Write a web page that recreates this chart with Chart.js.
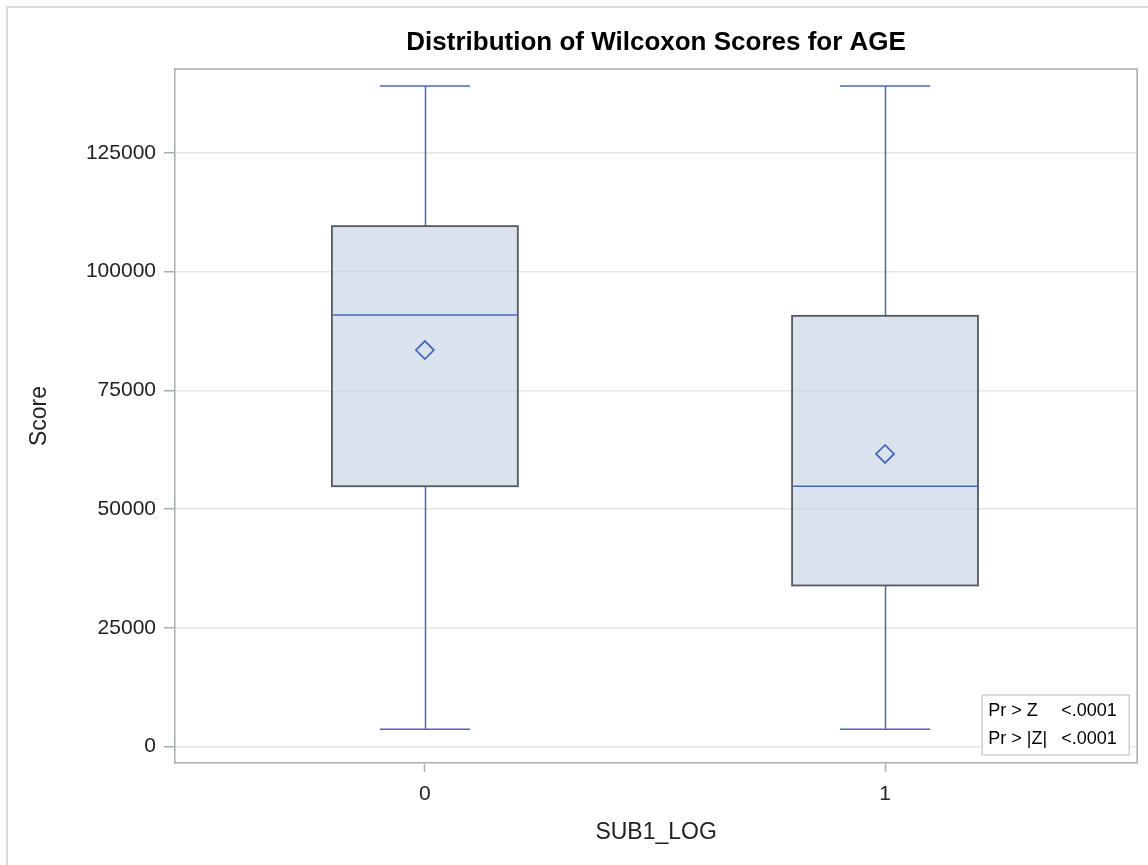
<!DOCTYPE html>
<html>
<head>
<meta charset="utf-8">
<script src="https://cdn.jsdelivr.net/npm/chart.js@4"></script>
<style>
  html, body { margin: 0; padding: 0; background: #fff; }
  canvas { display: block; }
</style>
</head>
<body>
<canvas id="chart" width="1148" height="865"></canvas>
<script>
// box plot values
const categories = ['0', '1'];
const whiskerLow = [3600, 3600];
const q1 = [54800, 33900];
const median = [90900, 54800];
const q3 = [109600, 90700];
const whiskerHigh = [139100, 139100];
const means = [83500, 61600];
const yTicks = [0, 25000, 50000, 75000, 100000, 125000];
const statLabels = ['Pr > Z', 'Pr > |Z|'];
const statValues = ['<.0001', '<.0001'];

const blue = '#4868bf';
const font = '"Liberation Sans", Arial, sans-serif';

const boxPlugin = {
    id: 'boxes',
    beforeDatasetsDraw(chart) {
        const ctx = chart.ctx;
        const x = chart.scales.x;
        const y = chart.scales.y;
        ctx.save();
        categories.forEach((c, i) => {
            const left = x.getPixelForValue(i - 0.202);
            const right = x.getPixelForValue(i + 0.202);
            const capL = x.getPixelForValue(i - 0.098);
            const capR = x.getPixelForValue(i + 0.098);
            const cx = Math.round(x.getPixelForValue(i)) + 0.5;
            const top = y.getPixelForValue(q3[i]);
            const bot = y.getPixelForValue(q1[i]);

            // whiskers
            ctx.strokeStyle = blue;
            ctx.lineWidth = 1.5;
            ctx.beginPath();
            ctx.moveTo(cx, top);
            ctx.lineTo(cx, y.getPixelForValue(whiskerHigh[i]));
            ctx.moveTo(cx, bot);
            ctx.lineTo(cx, y.getPixelForValue(whiskerLow[i]));
            ctx.moveTo(capL, y.getPixelForValue(whiskerHigh[i]));
            ctx.lineTo(capR, y.getPixelForValue(whiskerHigh[i]));
            ctx.moveTo(capL, y.getPixelForValue(whiskerLow[i]));
            ctx.lineTo(capR, y.getPixelForValue(whiskerLow[i]));
            ctx.stroke();

            // box
            ctx.fillStyle = 'rgba(196, 210, 228, 0.65)';
            ctx.fillRect(left, top, right - left, bot - top);
            ctx.strokeStyle = '#56595e';
            ctx.lineWidth = 1.8;
            ctx.strokeRect(left, top, right - left, bot - top);

            // median
            ctx.strokeStyle = blue;
            ctx.lineWidth = 1.5;
            ctx.beginPath();
            ctx.moveTo(left + 1, y.getPixelForValue(median[i]));
            ctx.lineTo(right - 1, y.getPixelForValue(median[i]));
            ctx.stroke();
        });
        ctx.restore();
    },
    afterDraw(chart) {
        const ctx = chart.ctx;
        const a = chart.chartArea;
        ctx.save();
        // outer frame
        ctx.strokeStyle = '#d0d0d0';
        ctx.lineWidth = 1.5;
        ctx.strokeRect(7, 7, 1160, 880);

        // plot frame top / right
        ctx.strokeStyle = '#a8adb2';
        ctx.lineWidth = 1.5;
        ctx.beginPath();
        ctx.moveTo(a.left, a.top);
        ctx.lineTo(a.right, a.top);
        ctx.lineTo(a.right, a.bottom);
        ctx.stroke();

        // titles
        ctx.fillStyle = '#000';
        ctx.textAlign = 'center';
        ctx.textBaseline = 'middle';
        ctx.font = 'bold 26px ' + font;
        ctx.fillText('Distribution of Wilcoxon Scores for AGE', (a.left + a.right) / 2, 43);
        ctx.fillStyle = '#222';
        ctx.font = '23px ' + font;
        ctx.fillText('SUB1_LOG', (a.left + a.right) / 2, 833);
        ctx.save();
        ctx.translate(40, (a.top + a.bottom) / 2);
        ctx.rotate(-Math.PI / 2);
        ctx.fillText('Score', 0, 0);
        ctx.restore();

        // inset stats box
        const bx = a.right - 155, by = a.bottom - 68, bw = 147, bh = 60;
        ctx.fillStyle = '#fff';
        ctx.fillRect(bx, by, bw, bh);
        ctx.strokeStyle = '#cfcfcf';
        ctx.lineWidth = 1.5;
        ctx.strokeRect(bx, by, bw, bh);
        ctx.fillStyle = '#000';
        ctx.font = '18px ' + font;
        ctx.textAlign = 'left';
        statLabels.forEach((lab, i) => {
            const ty = by + 16 + i * 28;
            ctx.fillText(lab, bx + 6, ty);
            ctx.fillText(statValues[i], bx + 79, ty);
        });
        ctx.restore();
    }
};

new Chart(document.getElementById('chart'), {
    type: 'scatter',
    data: {
        datasets: [{
            label: 'Mean',
            data: means.map((m, i) => ({ x: i, y: m })),
            pointStyle: 'rectRot',
            pointRadius: 9,
            pointHoverRadius: 9,
            pointBorderWidth: 1.8,
            pointBorderColor: blue,
            pointBackgroundColor: 'rgba(0,0,0,0)'
        }]
    },
    options: {
        responsive: false,
        devicePixelRatio: 1,
        animation: false,
        layout: { padding: { top: 69, right: 10, left: 0, bottom: 0 } },
        plugins: {
            legend: { display: false },
            title: { display: false },
            tooltip: { enabled: false }
        },
        scales: {
            x: {
                type: 'linear',
                min: -0.543,
                max: 1.548,
                afterFit: scale => { scale.height = 102; },
                afterBuildTicks: scale => {
                    scale.ticks = categories.map((c, i) => ({ value: i }));
                },
                ticks: {
                    callback: v => categories[v],
                    font: { family: font, size: 21 },
                    color: '#222',
                    padding: 10,
                    maxRotation: 0,
                    autoSkip: false
                },
                grid: {
                    drawOnChartArea: false,
                    drawTicks: true,
                    tickLength: 9,
                    tickColor: '#a8adb2',
                    tickWidth: 1.5
                },
                border: { color: '#a8adb2', width: 1.5 }
            },
            y: {
                min: -3500,
                max: 142700,
                afterFit: scale => { scale.width = 175; },
                afterBuildTicks: scale => {
                    scale.ticks = yTicks.map(v => ({ value: v }));
                },
                ticks: {
                    font: { family: font, size: 21 },
                    color: '#222',
                    padding: 8,
                    callback: v => String(v)
                },
                grid: {
                    color: '#e6e6e6',
                    lineWidth: 1.5,
                    drawTicks: true,
                    tickLength: 11,
                    tickColor: '#a8adb2',
                    tickWidth: 1.5
                },
                border: { color: '#a8adb2', width: 1.5 }
            }
        }
    },
    plugins: [boxPlugin]
});
</script>
</body>
</html>
